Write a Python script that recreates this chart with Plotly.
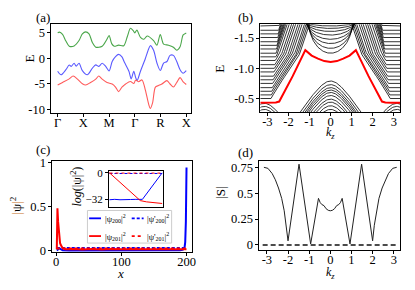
import numpy as np
import plotly.graph_objects as go

W, H = 415, 290
FONT = "Liberation Serif"

# ---------------- Panel (a): bands along the high-symmetry path ----------------
a_tick_pos = [0, 1, 2, 3, 4, 5]
a_tick_text = ["Γ", "X", "M", "Γ", "R", "X"]
a_y_ticks = [5, 0, -5, -10]

a_green_k = [0.0, 0.07, 0.19, 0.32, 0.45, 0.64, 0.83, 0.96, 1.09, 1.22, 1.35, 1.48, 1.73, 1.9, 2.0,
             2.1, 2.2, 2.37, 2.57, 2.71, 2.83, 2.93, 3.0, 3.08, 3.22, 3.35, 3.48, 3.73, 3.86, 3.99,
             4.12, 4.31, 4.5, 4.63, 4.76, 4.88, 5.0]
a_green_E = [5.0, 5.15, 4.7, 3.4, 2.4, 2.45, 3.5, 4.8, 5.2, 4.8, 3.1, 2.2, 2.4, 3.6, 4.5,
             2.9, 2.4, 2.6, 2.5, 4.3, 5.9, 5.5, 5.0, 5.55, 4.1, 3.75, 4.4, 3.5, 2.6, 4.7,
             2.8, 2.6, 2.2, 1.6, 2.3, 4.6, 5.0]

a_blue_k = [0.0, 0.13, 0.32, 0.45, 0.53, 0.64, 0.72, 0.83, 0.96, 1.15, 1.35, 1.48, 1.6, 1.73, 1.86,
            2.0, 2.12, 2.25, 2.37, 2.5, 2.6, 2.77, 2.86, 2.96, 3.03, 3.09, 3.22, 3.41, 3.54, 3.6,
            3.73, 3.86, 3.99, 4.12, 4.25, 4.37, 4.5, 4.63, 4.76, 4.88, 5.0]
a_blue_E = [-2.5, -3.2, -2.2, -1.3, -1.55, -0.95, -1.5, -0.95, -2.4, -3.2, -1.9, -1.25, -1.55, -0.95, -1.5,
            -2.45, -0.6, 0.35, 0.8, 0.3, -0.8, -2.5, -4.0, -2.5, -3.7, -4.3, -2.5, 0.0, 1.9, 2.5,
            1.6, -0.9, -2.35, -0.9, -0.6, 0.6, 0.6, -0.6, -2.2, -2.9, -2.4]

a_red_k = [0.0, 0.19, 0.45, 0.6, 0.77, 0.96, 1.09, 1.28, 1.48, 1.6, 1.73, 1.92, 2.12, 2.25, 2.37,
           2.5, 2.57, 2.64, 2.83, 2.96, 3.03, 3.15, 3.28, 3.41, 3.54, 3.6, 3.69, 3.8, 3.92, 4.05,
           4.25, 4.37, 4.5, 4.63, 4.76, 4.88, 5.0]
a_red_E = [-5.2, -4.7, -4.0, -3.45, -4.05, -4.95, -5.2, -4.7, -4.05, -3.45, -4.05, -4.7, -5.0, -5.6, -6.5,
           -5.6, -5.3, -5.0, -4.5, -4.9, -4.25, -4.55, -4.2, -6.2, -9.0, -9.8, -8.7, -5.6, -5.3, -5.0,
           -4.35, -5.0, -5.6, -4.7, -3.75, -4.6, -5.1]

# ---------------- Panel (b): slab spectrum vs kz ----------------
b_x_ticks = [-3, -2, -1, 0, 1, 2, 3]
b_y_ticks = [-1.5, -1.0, -0.5]
# side (bulk) fan: horizontal level at the zone edge and kz where each line turns
b_fan_levels = [-0.50, -0.56, -0.62, -0.68, -0.75, -0.81, -0.87, -0.94, -1.00, -1.06, -1.13,
                -1.19, -1.25, -1.32, -1.38, -1.44, -1.51, -1.57, -1.63, -1.70, -1.76]
b_fan_bend = [-2.83, -2.81, -2.79, -2.77, -2.75, -2.73, -2.71, -2.69, -2.67, -2.65, -2.63,
              -2.61, -2.59, -2.57, -2.55, -2.53, -2.51, -2.49, -2.47, -2.45, -2.43]
b_edge_E = [-1.90, -1.22, -0.69, -0.40]
b_edge_k = [-0.80, -1.50, -2.52, -3.00]
# upper central arcs
b_bowl_levels = [-1.25, -1.33, -1.41, -1.48, -1.55, -1.61, -1.66, -1.70]
b_bowl_width = [1.05, 1.08, 1.12, 1.16, 1.20, 1.25, 1.30, 1.35]
b_bowl_top = -1.80
# lower central domes and zone-edge domes
b_dome_peaks = [-0.79, -0.73, -0.68, -0.64, -0.60, -0.55, -0.49, -0.44, -0.38, -0.32]
b_corner_peaks = [-0.42, -0.37, -0.32]
b_dome_b, b_dome_v = 0.30, 0.52
# surface state (red)
b_surf_k = [-3.35, -2.9, -2.6, -2.44, -1.8, -1.2, -0.9, -0.6, -0.3, 0.0, 0.3, 0.6, 0.9, 1.2, 1.8, 2.44, 2.6, 2.9, 3.35]
b_surf_E = [-0.43, -0.43, -0.435, -0.45, -0.87, -1.30, -1.21, -1.16, -1.12, -1.105, -1.12, -1.16, -1.21, -1.30, -0.87, -0.45, -0.435, -0.43, -0.43]

# ---------------- Panel (c): site distribution ----------------
c_x_ticks = [0, 100, 200]
c_y_ticks = [0, 0.5, 1]
c_b_x = [1, 3, 5, 7, 10, 20, 40, 60, 80, 100, 120, 140, 160, 180, 190, 194, 196, 197, 198, 199, 200]
c_b_y = [0.005, 0.02, 0.03, 0.02, 0.008, 0.004, 0.004, 0.003, 0.004, 0.003, 0.004, 0.003, 0.004,
         0.005, 0.008, 0.012, 0.02, 0.04, 0.1, 0.33, 0.94]
c_bd_x = [1, 50, 100, 150, 200]
c_bd_y = [0.034, 0.036, 0.035, 0.036, 0.034]
c_r_x = [1, 2, 3, 4, 5, 6, 7, 8, 10, 14, 25, 40, 55, 70, 85, 100, 115, 130, 145, 160, 175, 190, 200]
c_r_y = [0.02, 0.48, 0.33, 0.2, 0.13, 0.09, 0.07, 0.05, 0.03, 0.02, 0.022, 0.016, 0.021, 0.017,
         0.022, 0.018, 0.021, 0.016, 0.02, 0.018, 0.021, 0.017, 0.02]
c_rd_x = [1, 50, 100, 150, 200]
c_rd_y = [0.027, 0.026, 0.028, 0.026, 0.027]
# inset: log(|psi|^2)
c_in_b_x = [0, 20, 40, 60, 80, 100, 125, 200]
c_in_b_y = [-32.5, -32, -32.5, -32, -32.2, -32, -32, 0]
c_in_bd_x = [0, 50, 100, 150, 200]
c_in_bd_y = [-0.8, -0.6, -0.9, -0.6, -0.8]
c_in_r_x = [0, 117, 140, 170, 200]
c_in_r_y = [0, -33.5, -35, -36, -37]
c_in_rd_x = [0, 50, 100, 150, 200]
c_in_rd_y = [-0.3, -0.4, -0.2, -0.4, -0.3]
c_in_y_ticks = [0, -32]

# ---------------- Panel (d): |S| vs kz ----------------
d_k = [-3.14, -2.95, -2.75, -2.6, -2.45, -2.3, -2.18, -2.08, -2.0, -1.48, -0.93, -0.56, -0.48, -0.4,
       -0.3, -0.2, -0.1, 0.0, 0.1, 0.2, 0.3, 0.4, 0.48, 0.56, 0.93, 1.48, 2.0, 2.08, 2.18, 2.3,
       2.45, 2.6, 2.75, 2.95, 3.14]
d_S = [0.75, 0.74, 0.69, 0.63, 0.55, 0.45, 0.33, 0.19, 0.04, 0.78, 0.01, 0.45, 0.41, 0.39,
       0.38, 0.35, 0.335, 0.33, 0.335, 0.35, 0.38, 0.39, 0.41, 0.45, 0.01, 0.78, 0.04, 0.19, 0.33, 0.45,
       0.55, 0.63, 0.69, 0.74, 0.75]
d_zero_k = [-3.2, 3.2]
d_zero_S = [0, 0]
d_x_ticks = [-3, -2, -1, 0, 1, 2, 3]
d_y_ticks = [0, 0.25, 0.5, 0.75]


def fmt(v):
    return "%g" % v


def px(x):
    return x / W


def py(y):
    return 1 - y / H


fig = go.Figure()

# ---- (a)
for k, e, col in [(a_green_k, a_green_E, "#4aa64a"), (a_blue_k, a_blue_E, "#5a5aff"), (a_red_k, a_red_E, "#ff5a5a")]:
    fig.add_trace(go.Scatter(x=k, y=e, mode="lines", line=dict(color=col, width=1.1, shape="spline", smoothing=0.8),
                             xaxis="x", yaxis="y", showlegend=False))

# ---- (b) black bulk lines
bk, bE = [], []
for L, kb in zip(b_fan_levels, b_fan_bend):
    shift = np.interp(L, b_edge_E, b_edge_k) - kb
    Es = np.linspace(L, -1.95, 25)
    ks = np.interp(Es, b_edge_E, b_edge_k) - shift
    kk = np.concatenate([[-3.45], ks])
    ee = np.concatenate([[L], Es])
    for sgn in (1, -1):
        bk += list(sgn * kk) + [None]
        bE += list(ee) + [None]
for P, w in zip(b_bowl_levels, b_bowl_width):
    ks = np.linspace(-w, w, 121)
    ee = b_bowl_top + (P - b_bowl_top) * np.sqrt(np.clip(1 - (ks / w) ** 2, 0, None))
    bk += list(ks) + [None]
    bE += list(ee) + [None]
for P in b_dome_peaks:
    ks = np.linspace(-1.9, 1.9, 121)
    ee = P + np.sqrt(b_dome_b ** 2 + (b_dome_v * ks) ** 2) - b_dome_b
    bk += list(ks) + [None]
    bE += list(ee) + [None]
for c in (-np.pi, np.pi):
    for P in b_corner_peaks:
        ks = np.linspace(-0.9, 0.9, 61)
        ee = P + np.sqrt(b_dome_b ** 2 + (b_dome_v * ks) ** 2) - b_dome_b
        bk += list(ks + c) + [None]
        bE += list(ee) + [None]
fig.add_trace(go.Scatter(x=bk, y=bE, mode="lines", line=dict(color="black", width=0.8),
                         xaxis="x2", yaxis="y2", showlegend=False, connectgaps=False))
fig.add_trace(go.Scatter(x=b_surf_k, y=b_surf_E, mode="lines", line=dict(color="#ff0000", width=2),
                         xaxis="x2", yaxis="y2", showlegend=False))

# ---- (c)
fig.add_trace(go.Scatter(x=c_b_x, y=c_b_y, mode="lines", line=dict(color="#0000ff", width=2),
                         xaxis="x3", yaxis="y3", showlegend=False))
fig.add_trace(go.Scatter(x=c_bd_x, y=c_bd_y, mode="lines", line=dict(color="#0000ff", width=2, dash="3px,2px"),
                         xaxis="x3", yaxis="y3", showlegend=False))
fig.add_trace(go.Scatter(x=c_r_x, y=c_r_y, mode="lines", line=dict(color="#ff0000", width=2),
                         xaxis="x3", yaxis="y3", showlegend=False))
fig.add_trace(go.Scatter(x=c_rd_x, y=c_rd_y, mode="lines", line=dict(color="#ff0000", width=2, dash="dot"),
                         xaxis="x3", yaxis="y3", showlegend=False))
# inset
fig.add_trace(go.Scatter(x=c_in_b_x, y=c_in_b_y, mode="lines", line=dict(color="#0000ff", width=1),
                         xaxis="x5", yaxis="y5", showlegend=False))
fig.add_trace(go.Scatter(x=c_in_bd_x, y=c_in_bd_y, mode="lines", line=dict(color="#0000ff", width=1, dash="3px,2px"),
                         xaxis="x5", yaxis="y5", showlegend=False))
fig.add_trace(go.Scatter(x=c_in_r_x, y=c_in_r_y, mode="lines", line=dict(color="#ff0000", width=1),
                         xaxis="x5", yaxis="y5", showlegend=False))
fig.add_trace(go.Scatter(x=c_in_rd_x, y=c_in_rd_y, mode="lines", line=dict(color="#ff0000", width=1, dash="dot"),
                         xaxis="x5", yaxis="y5", showlegend=False))

# ---- (d)
fig.add_trace(go.Scatter(x=d_k, y=d_S, mode="lines", line=dict(color="#222222", width=1),
                         xaxis="x4", yaxis="y4", showlegend=False))
fig.add_trace(go.Scatter(x=d_zero_k, y=d_zero_S, mode="lines", line=dict(color="#111111", width=1.5, dash="5px,3px"),
                         xaxis="x4", yaxis="y4", showlegend=False))

tickfont = dict(family=FONT, size=12.5, color="black")
base = dict(showline=True, linecolor="black", linewidth=1, mirror=True, ticks="outside", ticklen=3,
            tickwidth=1, tickcolor="black", showgrid=False, zeroline=False, tickfont=tickfont)
xbase = dict(base, ticklabelstandoff=-5)

fig.update_layout(
    width=W, height=H, margin=dict(l=0, r=0, t=0, b=0),
    paper_bgcolor="white", plot_bgcolor="white", showlegend=False,
    font=dict(family=FONT),
    xaxis=dict(xbase, domain=[px(52), px(193)], range=[-0.24, 5.19], tickvals=a_tick_pos, ticktext=a_tick_text, anchor="y"),
    yaxis=dict(base, domain=[py(112), py(19)], range=[-10.75, 6.7], tickvals=a_y_ticks,
               ticktext=[fmt(v) for v in a_y_ticks], anchor="x"),
    xaxis2=dict(xbase, domain=[px(263), px(404)], range=[-3.33, 3.3], tickvals=b_x_ticks,
                ticktext=[fmt(v) for v in b_x_ticks], anchor="y2"),
    yaxis2=dict(base, domain=[py(111), py(19)], range=[-0.27, -1.73], tickvals=b_y_ticks,
                ticktext=["%.1f" % v for v in b_y_ticks], anchor="x2"),
    xaxis3=dict(xbase, domain=[px(53), px(194)], range=[-5.6, 208.6], tickvals=c_x_ticks,
                ticktext=[fmt(v) for v in c_x_ticks], anchor="y3"),
    yaxis3=dict(base, domain=[py(257), py(162)], range=[-0.016, 1.01], tickvals=c_y_ticks,
                ticktext=[fmt(v) for v in c_y_ticks], anchor="x3"),
    xaxis4=dict(xbase, domain=[px(262), px(404)], range=[-3.35, 3.3], tickvals=d_x_ticks,
                ticktext=[fmt(v) for v in d_x_ticks], anchor="y4"),
    yaxis4=dict(base, domain=[py(255), py(162)], range=[-0.053, 0.808], tickvals=d_y_ticks,
                ticktext=[fmt(v) for v in d_y_ticks], anchor="x4"),
    xaxis5=dict(base, domain=[px(110), px(164.3)], range=[-2, 202], showticklabels=False, ticks="", anchor="y5"),
    yaxis5=dict(base, domain=[py(209.3), py(171.7)], range=[-40.8, 2.7], tickvals=c_in_y_ticks,
                ticktext=["0", "\u221232"], tickfont=dict(family=FONT, size=11, color="black"), anchor="x5"),
)

ann = []


def text(x, y, t, size=13, angle=0, xanchor="center", yanchor="middle"):
    ann.append(dict(x=px(x), y=py(y), xref="paper", yref="paper", text=t, showarrow=False,
                    font=dict(family=FONT, size=size, color="black"), textangle=angle,
                    xanchor=xanchor, yanchor=yanchor))


text(43, 12, "(a)")
text(248, 12, "(b)")
text(43, 150, "(c)")
text(248, 153, "(d)")
text(30, 55, "E", angle=-90)
text(221.5, 65, "E", angle=-90)
text(223, 195, "|S|", angle=-90)
text(16.5, 208, "<span style='color:#c8702a'>|</span>ψ<span style='color:#c8702a'>|</span><sup>2</sup>", angle=-90)
text(334, 133, "<i>k<sub>z</sub></i>", size=12)
text(334, 279, "<i>k<sub>z</sub></i>", size=12)
text(121.7, 279, "<i>x</i>")
text(77, 188, "<i>log</i>(|ψ|<sup>2</sup>)", size=12, angle=-90)

# manual legend for panel (c)
shapes = []
shapes.append(dict(type="rect", xref="paper", yref="paper", x0=px(88.3), x1=px(173.3), y0=py(247.3), y1=py(213.3),
                   line=dict(color="#cccccc", width=1), fillcolor="rgba(255,255,255,0.85)", layer="above"))
leg = [
    (221.5, 90, "#0000ff", "solid", "|ψ<sub>200</sub>|<sup>2</sup>"),
    (221.5, 133, "#0000ff", "3px,2px", "|ψ'<sub>200</sub>|<sup>2</sup>"),
    (240, 90, "#ff0000", "solid", "|ψ<sub>201</sub>|<sup>2</sup>"),
    (240, 133, "#ff0000", "dot", "|ψ'<sub>201</sub>|<sup>2</sup>"),
]
for yy, xx, col, dash, lab in leg:
    shapes.append(dict(type="line", xref="paper", yref="paper", x0=px(xx), x1=px(xx + 12), y0=py(yy), y1=py(yy),
                       line=dict(color=col, width=1.8, dash=dash), layer="above"))
    text(xx + 13.5, yy, lab, size=8.5, xanchor="left")

fig.update_layout(annotations=ann, shapes=shapes)
fig.write_html("out.html", config={"displayModeBar": False},
               post_script="document.body.style.margin='0';document.body.style.padding='0';")
